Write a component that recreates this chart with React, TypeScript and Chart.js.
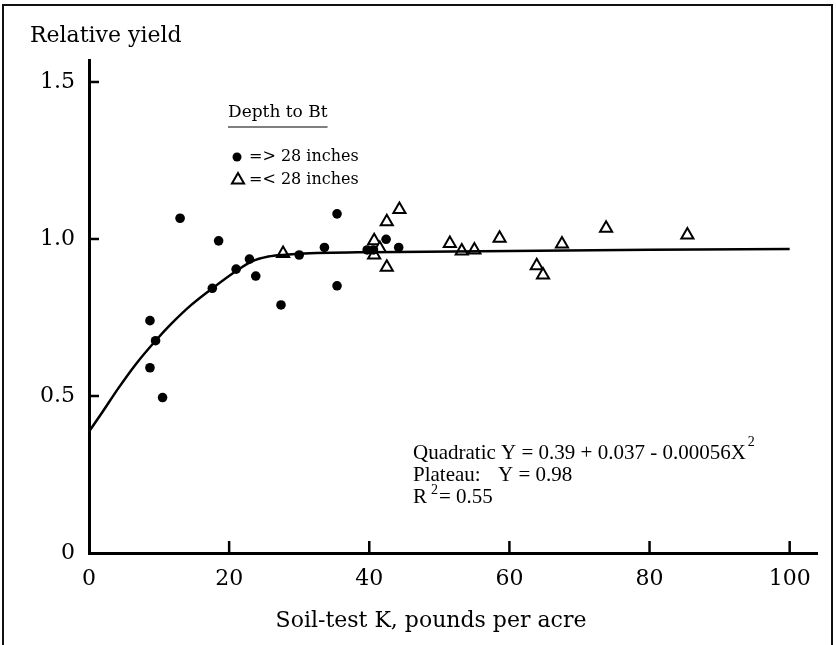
import React, { useEffect, useRef } from "react";
import { Chart, registerables } from "chart.js";

Chart.register(...registerables);

// ---- data ----
const deepX = [13, 18.5, 22.9, 21, 23.8, 17.6, 8.7, 9.5, 8.7, 10.5, 27.4, 30.0, 33.6, 35.4, 35.4, 39.7, 40.6, 42.4, 44.2];
const deepY = [1.066, 0.994, 0.936, 0.904, 0.882, 0.843, 0.74, 0.676, 0.59, 0.495, 0.79, 0.949, 0.973, 1.08, 0.851, 0.965, 0.965, 0.999, 0.973];

const shallowX = [27.7, 40.7, 41.5, 40.7, 42.5, 44.3, 42.5, 51.5, 53.2, 55.0, 58.6, 63.9, 64.8, 67.5, 73.8, 85.4];
const shallowY = [0.954, 0.994, 0.97, 0.949, 1.055, 1.094, 0.91, 0.986, 0.962, 0.965, 1.002, 0.915, 0.885, 0.984, 1.034, 1.013];

const curveX = [0, 1.8, 4.2, 6.6, 9.5, 11.8, 14.6, 17.5, 21, 23.2, 25.6, 28, 30, 40, 100];
const curveY = [0.387, 0.445, 0.525, 0.599, 0.676, 0.731, 0.79, 0.841, 0.898, 0.928, 0.944, 0.95, 0.953, 0.958, 0.968];

const xTicks = [0, 20, 40, 60, 80, 100];
const xTickLabels = ["0", "20", "40", "60", "80", "100"];
const yTicks = [0, 0.5, 1, 1.5];
const yTickLabels = ["0", "0.5", "1.0", "1.5"];

const yTitle = "Relative yield";
const xTitle = "Soil-test K, pounds per acre";
const legendTitle = "Depth to Bt";
const legendDeep = "=> 28 inches";
const legendShallow = "=< 28 inches";
const eqLine1 = "Quadratic Y = 0.39 + 0.037 - 0.00056X";
const eqPlateauLabel = "Plateau:";
const eqPlateauValue = "Y = 0.98";
const eqR = "R";
const eqRValue = "= 0.55";

const SERIF = "'DejaVu Serif', serif";
const NARROW = "'Liberation Serif', serif";

const decorPlugin = {
  id: "decor",
  afterDraw(chart: any) {
    const ctx = chart.ctx;
    const xs = chart.scales.x;
    const ys = chart.scales.y;
    ctx.save();
    // frame
    ctx.strokeStyle = "#111";
    ctx.lineWidth = 2;
    ctx.strokeRect(3, 5, 829, 700);

    // inward tick marks
    ctx.strokeStyle = "#000";
    ctx.lineWidth = 2.5;
    const x0 = xs.getPixelForValue(0);
    const yb = ys.getPixelForValue(0);
    xTicks.forEach((v) => {
      if (v === 0) return;
      const px = xs.getPixelForValue(v);
      ctx.beginPath();
      ctx.moveTo(px, yb);
      ctx.lineTo(px, yb - 12);
      ctx.stroke();
    });
    yTicks.forEach((v) => {
      if (v === 0) return;
      const py = ys.getPixelForValue(v);
      ctx.beginPath();
      ctx.moveTo(x0, py);
      ctx.lineTo(x0 + 10, py);
      ctx.stroke();
    });

    ctx.fillStyle = "#000";
    // y title
    ctx.font = `22px ${SERIF}`;
    ctx.textBaseline = "middle";
    ctx.textAlign = "left";
    ctx.fillText(yTitle, 30, 36);
    // x title
    ctx.textAlign = "center";
    ctx.fillText(xTitle, 431, 621);

    // legend
    ctx.textAlign = "left";
    ctx.font = `17px ${SERIF}`;
    ctx.fillText(legendTitle, 228, 113);
    const tw = ctx.measureText(legendTitle).width;
    ctx.lineWidth = 1.2;
    ctx.beginPath();
    ctx.moveTo(228, 127);
    ctx.lineTo(228 + tw, 127);
    ctx.stroke();
    ctx.beginPath();
    ctx.arc(237, 157, 4.5, 0, Math.PI * 2);
    ctx.fill();
    ctx.font = `16px ${SERIF}`;
    ctx.fillText(legendDeep, 249, 157);
    const r = 7;
    const ty = 180;
    ctx.lineWidth = 2;
    ctx.beginPath();
    ctx.moveTo(238, ty - r);
    ctx.lineTo(238 + 0.866 * r, ty + 0.5 * r);
    ctx.lineTo(238 - 0.866 * r, ty + 0.5 * r);
    ctx.closePath();
    ctx.stroke();
    ctx.fillText(legendShallow, 249, 180);

    // equation text
    ctx.font = `21px ${NARROW}`;
    ctx.fillText(eqLine1, 413, 453);
    const w1 = ctx.measureText(eqLine1).width;
    ctx.font = `14px ${NARROW}`;
    ctx.fillText("2", 413 + w1 + 2, 442);
    ctx.font = `21px ${NARROW}`;
    ctx.fillText(eqPlateauLabel, 413, 475);
    ctx.fillText(eqPlateauValue, 498, 475);
    ctx.fillText(eqR, 413, 497);
    const wr = ctx.measureText(eqR).width;
    ctx.font = `14px ${NARROW}`;
    ctx.fillText("2", 413 + wr + 4, 490);
    ctx.font = `21px ${NARROW}`;
    ctx.fillText(eqRValue, 413 + wr + 12, 497);
    ctx.restore();
  },
};

export default function App() {
  const ref = useRef<HTMLCanvasElement>(null);
  useEffect(() => {
    if (!ref.current) return;
    const chart = new Chart(ref.current, {
      type: "scatter",
      data: {
        datasets: [
          {
            label: "fit",
            data: curveX.map((x, i) => ({ x, y: curveY[i] })),
            showLine: true,
            borderColor: "#000",
            borderWidth: 2.5,
            pointRadius: 0,
            cubicInterpolationMode: "monotone",
            fill: false,
          },
          {
            label: legendDeep,
            data: deepX.map((x, i) => ({ x, y: deepY[i] })),
            pointStyle: "circle",
            pointRadius: 4.8,
            backgroundColor: "#000",
            borderColor: "#000",
            borderWidth: 0,
          },
          {
            label: legendShallow,
            data: shallowX.map((x, i) => ({ x, y: shallowY[i] })),
            pointStyle: "triangle",
            pointRadius: 7,
            backgroundColor: "#fff",
            borderColor: "#000",
            borderWidth: 2,
          },
        ],
      },
      options: {
        responsive: false,
        animation: false,
        layout: { padding: { left: 0, top: 60, right: 19, bottom: 0 } },
        plugins: { legend: { display: false }, tooltip: { enabled: false } },
        scales: {
          x: {
            type: "linear",
            min: 0,
            max: 103.9,
            afterBuildTicks: (s: any) => {
              s.ticks = xTicks.map((v) => ({ value: v }));
            },
            afterFit: (s: any) => {
              s.height = 92;
            },
            ticks: {
              padding: 13,
              color: "#000",
              font: { family: SERIF, size: 22 },
              callback: (v: any) => xTickLabels[xTicks.indexOf(Number(v))] ?? "",
            },
            grid: { display: false, drawTicks: false },
            border: { display: true, color: "#000", width: 3 },
          },
          y: {
            type: "linear",
            min: 0,
            max: 1.57,
            afterBuildTicks: (s: any) => {
              s.ticks = yTicks.map((v) => ({ value: v }));
            },
            afterFit: (s: any) => {
              s.width = 89;
            },
            ticks: {
              padding: 14,
              color: "#000",
              font: { family: SERIF, size: 22 },
              callback: (v: any) => yTickLabels[yTicks.indexOf(Number(v))] ?? "",
            },
            grid: { display: false, drawTicks: false },
            border: { display: true, color: "#000", width: 3 },
          },
        },
      },
      plugins: [decorPlugin],
    });
    return () => chart.destroy();
  }, []);
  return (
    <div style={{ position: "fixed", left: 0, top: 0, width: 836, height: 645, background: "#fff" }}>
      <canvas ref={ref} width={836} height={645} style={{ display: "block" }} />
    </div>
  );
}
